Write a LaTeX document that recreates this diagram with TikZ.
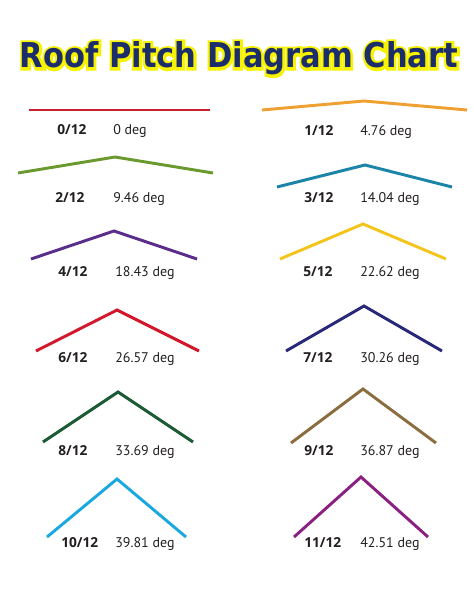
\documentclass[tikz,border=0pt]{standalone}
\usepackage{fontspec}
\usepackage{graphicx}
\setmainfont{PT Sans}
\newfontfamily\titlefont{DejaVu Sans}
\newfontfamily\glowfont{DejaVu Sans}[BoldFeatures={FakeBold=16}]
\newfontfamily\pitchfont{Open Sans}

\definecolor{titleblue}{HTML}{1C2D6B}
\definecolor{glowyellow}{HTML}{F6F200}
\definecolor{labelgray}{HTML}{231F20}
\definecolor{rfred}{HTML}{C8202F}
\definecolor{rforange}{HTML}{EFA030}
\definecolor{rfolive}{HTML}{6A9A2F}
\definecolor{rfteal}{HTML}{1A85A8}
\definecolor{rfviolet}{HTML}{5A2D8C}
\definecolor{rfyellow}{HTML}{F3C51C}
\definecolor{rfcrimson}{HTML}{D4182B}
\definecolor{rfnavy}{HTML}{282878}
\definecolor{rfforest}{HTML}{1A5A35}
\definecolor{rfbrown}{HTML}{8C6D40}
\definecolor{rfcyan}{HTML}{1AA8E0}
\definecolor{rfplum}{HTML}{8A2080}

\tikzset{
  roof/.style={line width=2.2pt, line join=miter},
  heading/.style={anchor=base, inner sep=0pt},
  pitch/.style={anchor=base west, inner sep=0pt, text=labelgray, font=\pitchfont\bfseries\fontsize{10.3}{12}\selectfont},
  angle/.style={anchor=base west, inner sep=0pt, text=labelgray, font=\fontsize{10.5}{12}\selectfont},
}

\begin{document}
\begin{tikzpicture}[x=0.75pt, y=-0.75pt]
    \useasboundingbox[fill=white] (0,0) rectangle (474,613);

    % title, yellow glow under it
    \node[heading, text=glowyellow] (glow) at (239,68)
        {\resizebox{328.5pt}{19.5pt}{\glowfont\bfseries Roof Pitch Diagram Chart}};
    \node[heading, text=titleblue] (title) at (239,68)
        {\resizebox{328.5pt}{19.5pt}{\titlefont\bfseries Roof Pitch Diagram Chart}};

    % left column
        \draw[roof, rfred]     (29,110) -- (210,110);
        \node[pitch] (p0)  at (57,135) {0/12};
        \node[angle] (d0)  at (113,135) {0 deg};

        \draw[roof, rfolive]   (18,173) -- (115,157) -- (213,173);
        \node[pitch] (p2)  at (55,202) {2/12};
        \node[angle] (d2)  at (113,202) {9.46 deg};

        \draw[roof, rfviolet]  (31,259) -- (114,231) -- (197,259);
        \node[pitch] (p4)  at (58,276) {4/12};
        \node[angle] (d4)  at (115,276) {18.43 deg};

        \draw[roof, rfcrimson] (36,351) -- (117,310) -- (199,351);
        \node[pitch] (p6)  at (58,362) {6/12};
        \node[angle] (d6)  at (115,362) {26.57 deg};

        \draw[roof, rfforest]  (43,442) -- (118,392) -- (193,442);
        \node[pitch] (p8)  at (58,455) {8/12};
        \node[angle] (d8)  at (115,455) {33.69 deg};

        \draw[roof, rfcyan]    (47,537) -- (117,479) -- (186,537);
        \node[pitch] (p10) at (61,547) {10/12};
        \node[angle] (d10) at (115,547) {39.81 deg};

    % right column
        \draw[roof, rforange]  (262,110) -- (364,101) -- (467,110);
        \node[pitch] (p1)  at (304,136) {1/12};
        \node[angle] (d1)  at (360,136) {4.76 deg};

        \draw[roof, rfteal]    (277,187) -- (365,165) -- (452,187);
        \node[pitch] (p3)  at (304,202) {3/12};
        \node[angle] (d3)  at (360,202) {14.04 deg};

        \draw[roof, rfyellow]  (280,259) -- (363,224) -- (446,259);
        \node[pitch] (p5)  at (303,276) {5/12};
        \node[angle] (d5)  at (360,276) {22.62 deg};

        \draw[roof, rfnavy]    (286,351) -- (364,306) -- (442,351);
        \node[pitch] (p7)  at (303,362) {7/12};
        \node[angle] (d7)  at (360,362) {30.26 deg};

        \draw[roof, rfbrown]   (291,443) -- (363,389) -- (436,443);
        \node[pitch] (p9)  at (304,455) {9/12};
        \node[angle] (d9)  at (360,455) {36.87 deg};

        \draw[roof, rfplum]    (294,537) -- (361,477) -- (428,537);
        \node[pitch] (p11) at (304,547) {11/12};
        \node[angle] (d11) at (360,547) {42.51 deg};
\end{tikzpicture}
\end{document}
